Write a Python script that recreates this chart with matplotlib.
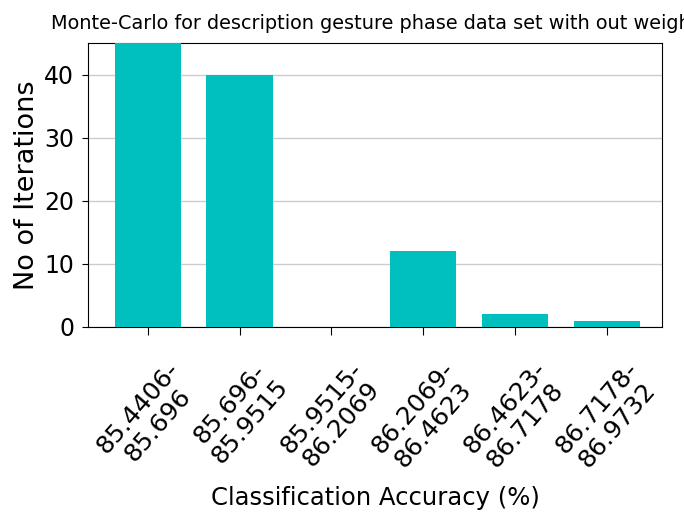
import matplotlib
matplotlib.use("Agg")
import matplotlib.pyplot as plt

# bins of classification accuracy and how many runs fell in each
binLabels = ["85.4406-\n85.696", "85.696-\n85.9515", "85.9515-\n86.2069",
             "86.2069-\n86.4623", "86.4623-\n86.7178", "86.7178-\n86.9732"]
iterations = [45, 40, 0, 12, 2, 1]
yTicks = [0, 10, 20, 30, 40]

fig = plt.figure(figsize=(6.84, 5.18), dpi=100)
ax = fig.add_axes([88 / 684, 1 - 327 / 518, (662 - 88) / 684, (327 - 43) / 518])

positions = list(range(len(iterations)))
ax.bar(positions, iterations, width=0.72, color="c", zorder=3)

ax.set_xlim(-0.65, 5.6)
ax.set_ylim(0, 45)
ax.set_yticks(yTicks)
ax.yaxis.grid(True, color="#cccccc", linewidth=1.0, zorder=0)
ax.tick_params(axis="y", labelsize=17, pad=6, length=4)
ax.tick_params(axis="x", pad=16, length=6)

ax.set_xticks(positions)
ax.set_xticklabels(binLabels, rotation=49, ha="center", va="top",
                   multialignment="center", fontsize=18, linespacing=1.1)

ax.set_ylabel("No of Iterations", fontsize=19.5)
ax.yaxis.set_label_coords(-0.106, 0.5)
ax.yaxis.label.set_va("center")

ax.set_xlabel("Classification Accuracy (%)", fontsize=17.5)
ax.xaxis.set_label_coords(0.5, -0.602)
ax.xaxis.label.set_va("center")

ax.set_title("Monte-Carlo for description gesture phase data set with out weight",
             fontsize=13.9, pad=10)

fig.savefig("out.png", dpi=100)
